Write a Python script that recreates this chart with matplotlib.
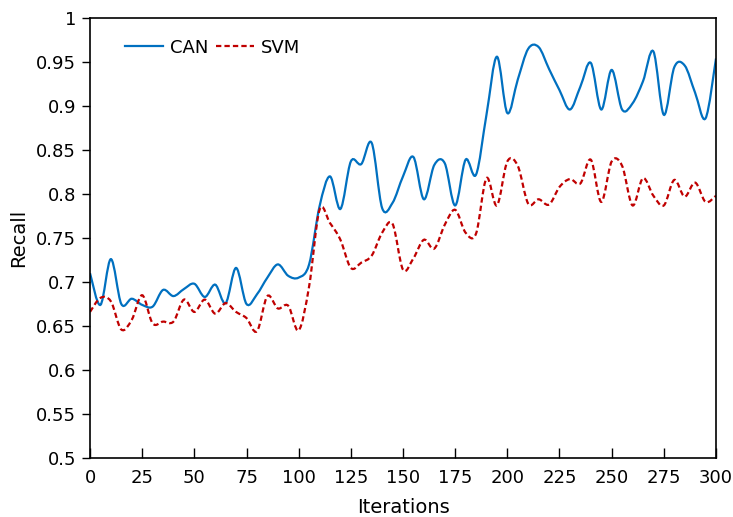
import numpy as np
import matplotlib
matplotlib.use("Agg")
import matplotlib.pyplot as plt
from matplotlib.path import Path
from matplotlib.patches import PathPatch
from matplotlib.lines import Line2D
from matplotlib.ticker import FuncFormatter

iterations = list(range(0, 301, 5))
can = [0.710, 0.674, 0.726, 0.675, 0.681, 0.674, 0.672, 0.691, 0.684, 0.692,
       0.698, 0.683, 0.697, 0.676, 0.716, 0.675, 0.686, 0.705, 0.720, 0.707,
       0.705, 0.720, 0.786, 0.820, 0.783, 0.837, 0.834, 0.858, 0.784, 0.790,
       0.820, 0.842, 0.794, 0.833, 0.835, 0.787, 0.839, 0.822, 0.890, 0.956,
       0.892, 0.930, 0.965, 0.967, 0.942, 0.918, 0.896, 0.922, 0.949, 0.896,
       0.941, 0.896, 0.903, 0.928, 0.962, 0.890, 0.944, 0.946, 0.915, 0.886,
       0.954]
svm = [0.666, 0.682, 0.678, 0.646, 0.657, 0.685, 0.653, 0.655, 0.655, 0.680,
       0.666, 0.680, 0.664, 0.676, 0.666, 0.659, 0.644, 0.684, 0.670, 0.673,
       0.645, 0.695, 0.782, 0.767, 0.748, 0.716, 0.722, 0.730, 0.756, 0.766,
       0.714, 0.727, 0.748, 0.738, 0.765, 0.782, 0.756, 0.755, 0.818, 0.787,
       0.837, 0.832, 0.789, 0.794, 0.788, 0.808, 0.817, 0.812, 0.839, 0.791,
       0.837, 0.832, 0.787, 0.818, 0.798, 0.787, 0.816, 0.797, 0.813, 0.791,
       0.798]
series_names = ["CAN", "SVM"]
x_ticks = list(range(0, 301, 25))
y_ticks = [0.5, 0.55, 0.6, 0.65, 0.7, 0.75, 0.8, 0.85, 0.9, 0.95, 1.0]

plt.rcParams['font.family'] = ['DejaVu Sans']


def smooth_path(xs, ys):
    """Cubic Bezier path through the data points (Excel-style smoothing)."""
    pts = np.column_stack([xs, ys]).astype(float)
    n = len(pts)
    verts = [pts[0]]
    codes = [Path.MOVETO]
    for i in range(n - 1):
        p0 = pts[i - 1] if i > 0 else pts[i]
        p1 = pts[i]
        p2 = pts[i + 1]
        p3 = pts[i + 2] if i + 2 < n else pts[i + 1]
        c1 = p1 + (p2 - p0) / 6.0
        c2 = p2 - (p3 - p1) / 6.0
        verts += [c1, c2, p2]
        codes += [Path.CURVE4] * 3
    return Path(verts, codes)


fig = plt.figure(figsize=(7.33, 5.17), dpi=100)
ax = fig.add_axes([0.1228, 0.1141, 0.854, 0.8511])

styles = [dict(color="#0070C0", lw=1.6, ls="-"),
          dict(color="#C00000", lw=1.6, ls=(0, (2.4, 1.4)))]
handles = []
for vals, name, st in zip([can, svm], series_names, styles):
    p = smooth_path(iterations, vals)
    patch = PathPatch(p, facecolor="none", edgecolor=st["color"],
                      lw=st["lw"], ls=st["ls"], capstyle="butt")
    ax.add_patch(patch)
    handles.append(Line2D([], [], color=st["color"], lw=st["lw"], ls=st["ls"]))

ax.set_xlim(0, 300)
ax.set_ylim(0.5, 1.0)
ax.set_xticks(x_ticks)
ax.set_yticks(y_ticks)
ax.yaxis.set_major_formatter(FuncFormatter(lambda v, pos: f"{v:g}"))
ax.tick_params(axis="x", direction="in", length=7, width=1, labelsize=13, pad=8)
ax.tick_params(axis="y", direction="out", length=6, width=1, labelsize=13, pad=4)
for s in ax.spines.values():
    s.set_linewidth(1.2)
ax.set_xlabel("Iterations", fontsize=14, labelpad=8)
ax.set_ylabel("Recall", fontsize=14, labelpad=6)

ax.legend(handles, series_names, loc="upper left", bbox_to_anchor=(0.03, 0.99),
          ncol=2, frameon=False, fontsize=13, handlelength=2.1,
          handletextpad=0.4, columnspacing=0.4)

fig.savefig("out.png", dpi=100)
